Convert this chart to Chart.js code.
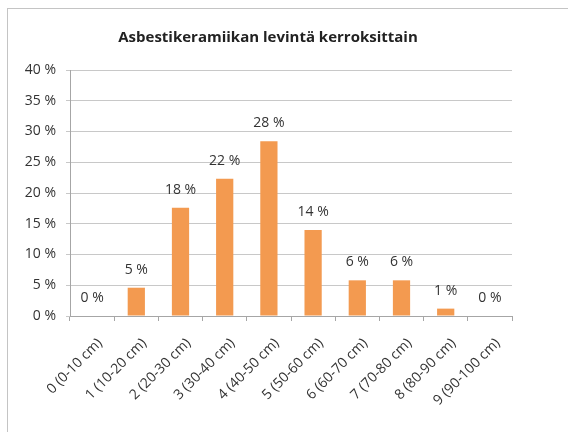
<!DOCTYPE html>
<html>
<head>
<meta charset="utf-8">
<script src="https://cdn.jsdelivr.net/npm/chart.js@4.4.1/dist/chart.umd.min.js"></script>
<style>
  html, body { margin: 0; padding: 0; background: #fff; }
  #wrap { position: relative; width: 568px; height: 432px; overflow: hidden; }
  #frame { position: absolute; left: 7px; top: 8px; width: 600px; height: 500px; border: 1px solid #c4c4c4; box-sizing: border-box; }
  #graf { position: absolute; left: 0; top: 0; }
</style>
</head>
<body>
<div id="wrap">
  <div id="frame"></div>
  <canvas id="graf" width="568" height="432"></canvas>
</div>
<script>
// kerrokset ja osuudet (%)
const kerrokset = ['0 (0-10 cm)', '1 (10-20 cm)', '2 (20-30 cm)', '3 (30-40 cm)', '4 (40-50 cm)',
    '5 (50-60 cm)', '6 (60-70 cm)', '7 (70-80 cm)', '8 (80-90 cm)', '9 (90-100 cm)'];
const osuudet = [0, 4.6, 17.6, 22.3, 28.4, 14.0, 5.8, 5.8, 1.2, 0];
const yTicks = [0, 5, 10, 15, 20, 25, 30, 35, 40];

const tekstiVari = '#333333';
const fontti = '"Open Sans", Lato, sans-serif';

// arvot palkkien päälle
const arvoLabelit = {
    id: 'arvoLabelit',
    afterDatasetsDraw(chart) {
        const ctx = chart.ctx;
        const meta = chart.getDatasetMeta(0);
        ctx.save();
        ctx.font = '14px ' + fontti;
        ctx.fillStyle = tekstiVari;
        ctx.textAlign = 'center';
        ctx.textBaseline = 'middle';
        meta.data.forEach((bar, i) => {
            ctx.fillText(Math.round(osuudet[i]) + ' %', bar.x, bar.y - 18);
        });
        ctx.restore();
    }
};

const config = {
    type: 'bar',
    data: {
        labels: kerrokset,
        datasets: [{
            label: 'Osuus',
            data: osuudet,
            backgroundColor: '#f39a50',
            borderWidth: 0,
            categoryPercentage: 1,
            barPercentage: 0.39
        }]
    },
    options: {
        responsive: false,
        animation: false,
        layout: { padding: { left: 24, right: 56, top: 8, bottom: 0 } },
        plugins: {
            legend: { display: false },
            tooltip: { enabled: false },
            title: {
                display: true,
                text: 'Asbestikeramiikan levintä kerroksittain',
                color: '#222222',
                font: { family: fontti, size: 15, weight: 'bold' },
                padding: { top: 21, bottom: 23 }
            }
        },
        scales: {
            x: {
                grid: { drawOnChartArea: false, drawTicks: true, tickLength: 5, color: '#a6a6a6', offset: true },
                border: { color: '#a6a6a6' },
                ticks: {
                    color: tekstiVari,
                    font: { family: fontti, size: 14 },
                    minRotation: 45,
                    maxRotation: 45,
                    autoSkip: false,
                    padding: 14,
                    labelOffset: 8
                },
                afterFit(scale) { scale.height = 116; }
            },
            y: {
                min: 0,
                max: 40,
                afterBuildTicks(scale) { scale.ticks = yTicks.map(v => ({ value: v })); },
                grid: { color: '#c8c8c8', tickLength: 4 },
                border: { color: '#a6a6a6' },
                ticks: {
                    color: tekstiVari,
                    font: { family: fontti, size: 14 },
                    padding: 10,
                    callback: v => v + ' %'
                },
                afterFit(scale) { scale.width = 46; }
            }
        }
    },
    plugins: [arvoLabelit]
};

new Chart(document.getElementById('graf').getContext('2d'), config);
</script>
</body>
</html>
